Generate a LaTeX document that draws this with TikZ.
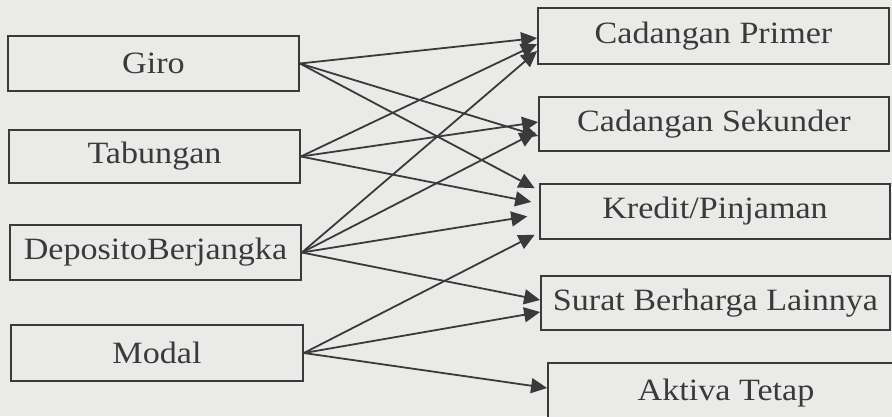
\documentclass[tikz,border=0pt]{standalone}
\usepackage{fontspec}
\setmainfont{Liberation Serif}[FakeStretch=1.1]
\usetikzlibrary{arrows.meta}
\definecolor{bg}{RGB}{234,234,233}
\definecolor{ink}{RGB}{58,58,58}
\tikzset{
  box/.style={draw=ink, line width=1.8pt, fill=bg, text=ink, inner sep=0pt,
    font=\fontsize{31}{36}\selectfont, anchor=center},
  arr/.style={draw=ink, line width=1.8pt, -{Triangle[length=16pt,width=15pt]}},
}
\begin{document}
\begin{tikzpicture}[x=1pt,y=-1pt]
\useasboundingbox (0,0) rectangle (892,416);
\clip (0,0) rectangle (892,416);
\fill[bg] (0,0) rectangle (892,416);
% left column
\node[box, minimum width=291pt, minimum height=55pt] (giro) at (153.5,63.5) {Giro};
\node[box, minimum width=291pt, minimum height=53pt] (tab) at (154.5,156.5) {Tabungan};
\node[box, minimum width=291pt, minimum height=55pt] (dep) at (155.5,252.5) {DepositoBerjangka};
\node[box, minimum width=292pt, minimum height=56pt] (mod) at (157,353) {Modal};
% right column
\node[box, minimum width=351pt, minimum height=56pt] (cp) at (713.5,36) {Cadangan Primer};
\node[box, minimum width=350pt, minimum height=54pt] (cs) at (714,124) {Cadangan Sekunder};
\node[box, minimum width=350pt, minimum height=55pt] (kr) at (715,211.5) {Kredit/Pinjaman};
\node[box, minimum width=349pt, minimum height=54pt] (sb) at (715.5,303) {Surat Berharga Lainnya};
\node[box, minimum width=356pt, minimum height=60pt] (at) at (726,393) {Aktiva Tetap};
% arrows
\draw[arr] (giro.east) -- ([yshift=-2pt]cp.west);
\draw[arr] (giro.east) -- ([yshift=-12pt]cs.west);
\draw[arr, shorten >=5pt] (giro.east) -- ([yshift=21pt]kr.west);
\draw[arr] (tab.east) -- ([yshift=-8pt]cp.west);
\draw[arr] (tab.east) -- ([yshift=2pt]cs.west);
\draw[arr, shorten >=8pt] (tab.east) -- ([yshift=8pt]kr.west);
\draw[arr] (dep.east) -- ([yshift=-15pt]cp.west);
\draw[arr, shorten >=3pt] (dep.east) -- ([yshift=-7pt]cs.west);
\draw[arr, shorten >=12pt] (dep.east) -- ([yshift=-3pt]kr.west);
\draw[arr] (dep.east) -- ([yshift=3pt]sb.west);
\draw[arr, shorten >=5pt] (mod.east) -- ([yshift=-21pt]kr.west);
\draw[arr] (mod.east) -- ([yshift=-9pt]sb.west);
\draw[arr] (mod.east) -- ([yshift=5pt]at.west);
\end{tikzpicture}
\end{document}
